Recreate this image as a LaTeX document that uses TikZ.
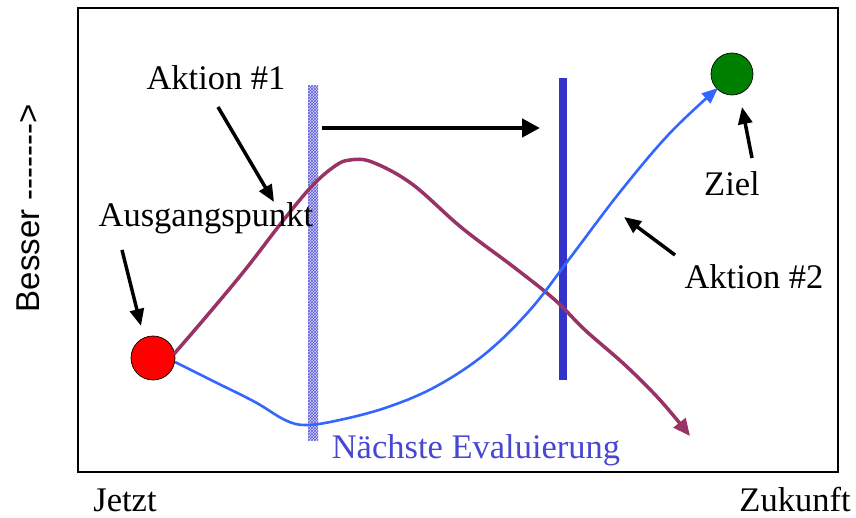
\documentclass[tikz,border=0pt]{standalone}
\usepackage{fontspec}
\setmainfont{Liberation Serif}
\newfontfamily\besserfont{Liberation Sans}
\usetikzlibrary{arrows.meta,patterns}
\definecolor{plum}{RGB}{153,51,102}
\definecolor{lblue}{RGB}{51,102,255}
\definecolor{dblue}{RGB}{51,51,204}
\definecolor{hatch}{RGB}{90,90,220}
\begin{document}
\begin{tikzpicture}[x=1pt,y=-1pt,
  lbl/.style={font=\fontsize{34.5}{40}\selectfont, inner sep=0pt},
  pointer/.style={line width=3.5pt, -{Triangle[length=17pt,width=14pt]}},
  curve/.style={line width=3.5pt}]
\useasboundingbox (0,0) rectangle (856,518);
\draw[line width=2pt] (78,8) rectangle (838,472);
% hatched bar
\fill[hatch!25] (308,86) rectangle (318,440);
\path[pattern={crosshatch},pattern color=hatch] (308,86) rectangle (318,440);
% blue bar
\fill[dblue] (559,78) rectangle (567,380);
% circles
\node[circle, fill=red, draw=black, line width=0.7pt, minimum size=44pt, inner sep=0pt] (start) at (153,358) {};
\node[circle, fill=green!50!black, draw=black, line width=0.7pt, minimum size=42pt, inner sep=0pt] (goal) at (732,74) {};
% purple curve
\draw[curve, plum, -{Triangle[length=17pt,width=15pt]}] plot[smooth, tension=0.6] coordinates {
 (174,354) (205,318) (245,270) (282,222) (312,186) (335,166) (350,160) (372,162)
 (412,184) (462,228) (515,268) (555,300) (585,330) (625,365) (660,400) (690,436)};
% blue curve
\draw[curve, lblue, line width=2.6pt, -{Triangle[length=16pt,width=13pt]}] plot[smooth, tension=0.6] coordinates {
 (175,362) (215,382) (255,402) (285,420) (305,425) (335,421) (385,408) (435,387)
 (485,354) (530,310) (570,258) (620,192) (670,133) (718,88)};
% horizontal arrow
\coordinate (h1) at (322,128);
\coordinate (h2) at (540,128);
\draw[line width=4.5pt, -{Triangle[length=18pt,width=18pt]}] (h1) -- (h2);
% labels
\node[lbl] (a1) at (216,78) {Aktion \#1};
\node[lbl] (ap) at (206,218) {Ausgangspunkt};
\node[lbl] (ziel) at (732,184) {Ziel};
\node[lbl] (a2) at (754,277) {Aktion \#2};
\node[lbl, text=dblue!90!white] (ne) at (476,450) {Nächste Evaluierung};
\node[lbl] (jetzt) at (125,500) {Jetzt};
\node[lbl] (zuk) at (795,500) {Zukunft};
\node[lbl, font=\besserfont\fontsize{33}{38}\selectfont, rotate=90] (bess) at (28,208) {Besser -------\textgreater};
% pointers
\coordinate (p1) at (274,202);
\coordinate (p2) at (141,326);
\coordinate (p3) at (742,107);
\coordinate (p4) at (624,217);
\draw[pointer] (218,107) -- (p1);
\draw[pointer] (122,250) -- (p2);
\draw[pointer] (752,158) -- (p3);
\draw[pointer] (675,255) -- (p4);
\end{tikzpicture}
\end{document}
